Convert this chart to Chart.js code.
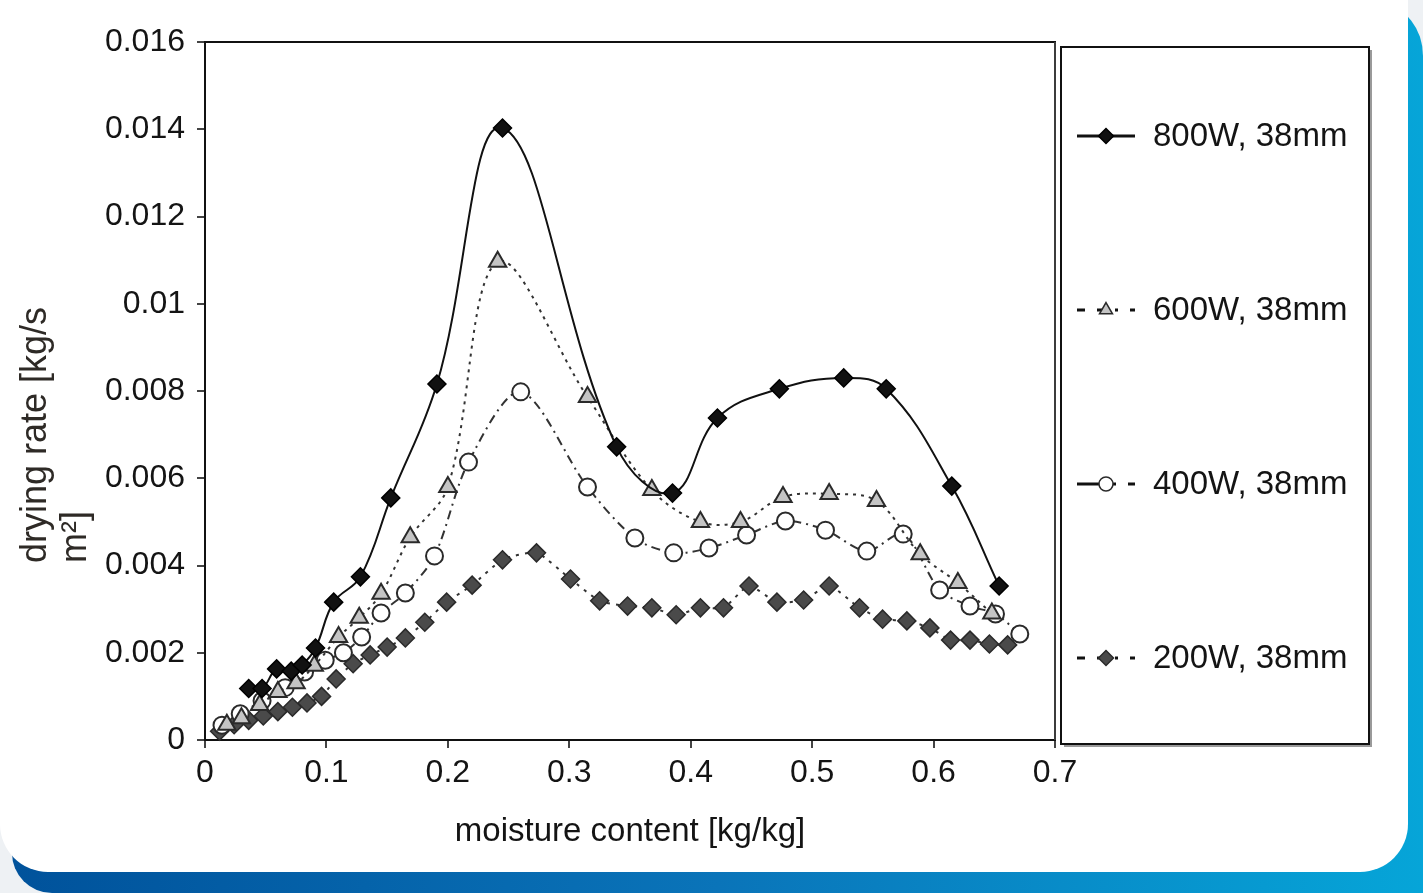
<!DOCTYPE html>
<html lang="en">
<head>
<meta charset="UTF-8">
<title>Drying rate vs moisture content</title>
<script src="https://cdn.jsdelivr.net/npm/chart.js@4"></script>
<style>
  * { box-sizing: border-box; margin: 0; padding: 0; }
  html, body { width: 1423px; height: 893px; overflow: hidden; background: #eef1f4; }
  .band { position: absolute; left: 12px; top: 6px; right: 0; bottom: 0;
          background: linear-gradient(90deg, #00529b 0%, #0a74b9 50%, #06a5d8 100%);
          border-top-right-radius: 40px 50px; border-bottom-left-radius: 40px; }
  .card { position: absolute; left: 0; top: -60px; width: 1408px; height: 932px;
          background: #fff; border-radius: 48px; }
  .wrap { position: absolute; left: 0; top: 0; width: 1423px; height: 893px; }
</style>
</head>
<body>
<div class="band"></div>
<div class="card"></div>
<div class="wrap"><canvas id="chart"></canvas></div>
<script>
// ---------- Data ----------

const xTickLabels = ['0', '0.1', '0.2', '0.3', '0.4', '0.5', '0.6', '0.7'];
const yTickLabels = ['0', '0.002', '0.004', '0.006', '0.008', '0.01', '0.012', '0.014', '0.016'];

const seriesLabels = ['800W, 38mm', '600W, 38mm', '400W, 38mm', '200W, 38mm'];

const moisture800 = [0.036, 0.047, 0.059, 0.071, 0.080, 0.091, 0.106, 0.128, 0.153, 0.191, 0.245,
                     0.339, 0.385, 0.422, 0.473, 0.526, 0.561, 0.615, 0.654];
const rate800     = [0.00118, 0.00118, 0.00163, 0.00158, 0.00172, 0.00211, 0.00316, 0.00374, 0.00555, 0.00816, 0.01403,
                     0.00672, 0.00566, 0.00738, 0.00805, 0.00830, 0.00805, 0.00582, 0.00353];

const moisture600 = [0.018, 0.030, 0.045, 0.060, 0.075, 0.090, 0.110, 0.127, 0.145, 0.169, 0.200, 0.241,
                     0.315, 0.368, 0.408, 0.441, 0.476, 0.514, 0.553, 0.589, 0.620, 0.648];
const rate600     = [0.00035, 0.00050, 0.00080, 0.00110, 0.00130, 0.00170, 0.00236, 0.00280, 0.00335, 0.00465, 0.00580, 0.01096,
                     0.00786, 0.00573, 0.00500, 0.00500, 0.00557, 0.00564, 0.00548, 0.00426, 0.00360, 0.00290];

const moisture400 = [0.014, 0.029, 0.047, 0.066, 0.082, 0.099, 0.114, 0.129, 0.145, 0.165, 0.189, 0.217, 0.260,
                     0.315, 0.354, 0.386, 0.415, 0.446, 0.478, 0.511, 0.545, 0.575, 0.605, 0.630, 0.651, 0.671];
const rate400     = [0.00034, 0.00060, 0.00090, 0.00120, 0.00156, 0.00183, 0.00200, 0.00236, 0.00291, 0.00337, 0.00422, 0.00637, 0.00798,
                     0.00580, 0.00463, 0.00429, 0.00440, 0.00470, 0.00502, 0.00481, 0.00433, 0.00472, 0.00344, 0.00307, 0.00289, 0.00243];

const moisture200 = [0.012, 0.024, 0.036, 0.048, 0.060, 0.072, 0.084, 0.096, 0.108, 0.122, 0.136, 0.150, 0.165, 0.181,
                     0.199, 0.220, 0.245, 0.273, 0.301, 0.325, 0.348, 0.368, 0.388, 0.408, 0.427, 0.448, 0.471, 0.493,
                     0.514, 0.539, 0.558, 0.578, 0.597, 0.614, 0.630, 0.646, 0.661];
const rate200     = [0.00020, 0.00035, 0.00045, 0.00055, 0.00065, 0.00075, 0.00085, 0.00100, 0.00140, 0.00175, 0.00195, 0.00213, 0.00234, 0.00270,
                     0.00316, 0.00355, 0.00413, 0.00429, 0.00369, 0.00319, 0.00307, 0.00303, 0.00287, 0.00303, 0.00303, 0.00353, 0.00316, 0.00321,
                     0.00353, 0.00303, 0.00277, 0.00273, 0.00257, 0.00229, 0.00229, 0.00220, 0.00218];

// ---------- Styles ----------

const FONT = "'Liberation Sans', Arial, sans-serif";
const INK = '#141414';

const styles = [
  { line: '#111', dash: [],            lw: 2,   point: 'rectRot',  r: 9,  fill: '#111',    stroke: '#000', bw: 1.5, tension: 0.4 },
  { line: '#333', dash: [3, 5],        lw: 2,   point: 'triangle', r: 10, fill: '#c4c4c4', stroke: '#2a2a2a', bw: 2, tension: 0.35 },
  { line: '#333', dash: [9, 5, 2, 5],  lw: 2,   point: 'circle',   r: 8.5, fill: '#fff',   stroke: '#2a2a2a', bw: 2, tension: 0.3 },
  { line: '#333', dash: [3, 6],        lw: 2,   point: 'rectRot',  r: 9,  fill: '#4a4a4a', stroke: '#2a2a2a', bw: 1.5, tension: 0.2 },
];

const xs = [moisture800, moisture600, moisture400, moisture200];
const ys = [rate800, rate600, rate400, rate200];

const datasets = seriesLabels.map((label, k) => ({
  label,
  data: xs[k].map((x, i) => ({ x, y: ys[k][i] })),
  borderColor: styles[k].line,
  borderWidth: styles[k].lw,
  borderDash: styles[k].dash,
  tension: styles[k].tension,
  pointStyle: styles[k].point,
  pointRadius: styles[k].r,
  pointBackgroundColor: styles[k].fill,
  pointBorderColor: styles[k].stroke,
  pointBorderWidth: styles[k].bw,
  clip: false,
}));

// ---------- Decorations: plot frame, boxed legend, two-line y title ----------

function marker(ctx, style, x, y, r) {
  ctx.beginPath();
  if (style === 'rectRot') {
    ctx.moveTo(x - r, y); ctx.lineTo(x, y - r); ctx.lineTo(x + r, y); ctx.lineTo(x, y + r);
  } else if (style === 'triangle') {
    ctx.moveTo(x, y - r);
    ctx.lineTo(x + r * 0.866, y + r / 2);
    ctx.lineTo(x - r * 0.866, y + r / 2);
  } else {
    ctx.arc(x, y, r, 0, Math.PI * 2);
  }
  ctx.closePath();
  ctx.fill();
  ctx.stroke();
}

const decor = {
  id: 'decor',
  afterDraw(chart) {
    const { ctx, chartArea: a } = chart;
    ctx.save();

    // top and right edges of the plot box
    ctx.lineWidth = 2;
    ctx.strokeStyle = '#111';
    ctx.beginPath(); ctx.moveTo(a.left, a.top); ctx.lineTo(a.right + 1, a.top); ctx.stroke();
    ctx.strokeStyle = '#3c3c3c';
    ctx.beginPath(); ctx.moveTo(a.right, a.top); ctx.lineTo(a.right, a.bottom); ctx.stroke();

    // legend box with a grey shadow
    const L = 1061, T = 47, R = 1369, B = 744;
    ctx.fillStyle = '#9a9a9a';
    ctx.fillRect(R, T + 3, 3, B - T);
    ctx.fillRect(L + 3, B, R - L, 3);
    ctx.strokeStyle = '#111';
    ctx.strokeRect(L, T, R - L, B - T);

    ctx.font = `33px ${FONT}`;
    ctx.textBaseline = 'middle';
    ctx.textAlign = 'left';
    seriesLabels.forEach((label, k) => {
      const y = 136 + k * 174;
      const s = styles[k];
      ctx.strokeStyle = '#111';
      ctx.lineWidth = 3;
      ctx.setLineDash(k === 0 ? [] : k === 2 ? [26, 10, 3, 12] : [8, 12, 8, 10, 3, 12]);
      ctx.beginPath(); ctx.moveTo(1077, y); ctx.lineTo(1135, y); ctx.stroke();
      ctx.setLineDash([]);
      ctx.lineWidth = 1.5;
      ctx.fillStyle = s.fill;
      ctx.strokeStyle = s.stroke;
      marker(ctx, s.point, 1106, y, s.point === 'circle' ? 7 : 7.5);
      ctx.fillStyle = INK;
      ctx.fillText(label, 1153, y + 1);
    });

    // y-axis title, two left-aligned lines rotated
    ctx.font = `36px ${FONT}`;
    ctx.fillStyle = '#2e2a26';
    ['drying rate [kg/s', 'm\u00b2]'].forEach((t, i) => {
      ctx.save();
      ctx.translate(36 + i * 40, 563);
      ctx.rotate(-Math.PI / 2);
      ctx.fillText(t, 0, 0);
      ctx.restore();
    });
    ctx.restore();
  },
};

// ---------- Chart ----------

new Chart(document.getElementById('chart'), {
  type: 'line',
  data: { datasets },
  options: {
    responsive: true,
    maintainAspectRatio: false,
    animation: false,
    layout: { padding: { left: 0, top: 42, right: 368, bottom: 0 } },
    plugins: { legend: { display: false }, tooltip: { enabled: false } },
    scales: {
      x: {
        type: 'linear',
        min: 0, max: 0.7,
        afterFit: s => { s.height = 153; },
        ticks: {
          stepSize: 0.1,
          padding: 6,
          color: INK,
          font: { family: FONT, size: 32 },
          callback: v => xTickLabels[Math.round(v * 10)],
        },
        grid: { drawOnChartArea: false, drawTicks: true, tickLength: 8, color: '#444', lineWidth: 2 },
        border: { display: true, color: '#111', width: 2 },
        title: {
          display: true,
          text: 'moisture content [kg/kg]',
          color: INK,
          font: { family: FONT, size: 33 },
          padding: { top: 0, bottom: 41 },
        },
      },
      y: {
        type: 'linear',
        min: 0, max: 0.016,
        afterFit: s => { s.width = 205; },
        ticks: {
          stepSize: 0.002,
          padding: 12,
          color: INK,
          font: { family: FONT, size: 32 },
          callback: v => yTickLabels[Math.round(v / 0.002)],
        },
        grid: { drawOnChartArea: false, drawTicks: true, tickLength: 8, color: '#444', lineWidth: 2 },
        border: { display: true, color: '#111', width: 2 },
      },
    },
  },
  plugins: [decor],
});
</script>
</body>
</html>
